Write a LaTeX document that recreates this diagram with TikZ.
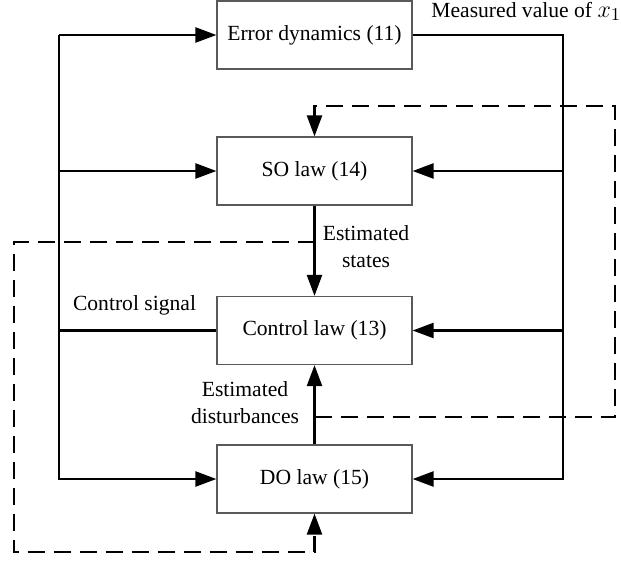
\documentclass[tikz,border=0pt]{standalone}
\usepackage{fontspec}
\setmainfont{Liberation Serif}
\usetikzlibrary{arrows.meta}
\begin{document}
\begin{tikzpicture}[x=0.5pt,y=-0.5pt,
  font=\fontsize{10.8pt}{13.5pt}\selectfont,
  blk/.style={draw=black!65,line width=0.6pt,minimum width=97.5pt,minimum height=34pt,inner sep=0pt},
  conn/.style={line width=1.2pt},
  arr/.style={conn,-{Triangle[length=10.5pt,width=7.5pt]}},
  dsh/.style={dash pattern=on 8.5pt off 4.5pt},
  lbl/.style={inner sep=0pt,align=center}]
\useasboundingbox (0,0) rectangle (621,563);
% blocks
\node[blk] (err) at (314.5,35) {Error dynamics (11)};
\node[blk] (so) at (314.5,171) {SO law (14)};
\node[blk] (ctl) at (314.5,330.5) {Control law (13)};
\node[blk] (do) at (314.5,479) {DO law (15)};
% bus corners
\coordinate (lt) at (59,35);
\coordinate (lb) at (59,479);
\coordinate (rt) at (563,35);
\coordinate (rb) at (563,479);
% left bus
\draw[arr] (lt) -- (err.west);
\draw[arr] (lt |- so.west) -- (so.west);
\draw[arr] (lt) -- (lb) -- (do.west);
\draw[conn] (ctl.west) -- (ctl.west -| lt);
% right bus
\draw[arr] (err.east) -- (rt) -- (rb) -- (do.east);
\draw[arr] (rt |- so.east) -- (so.east);
\draw[arr] (rt |- ctl.east) -- (ctl.east);
% vertical signals
\draw[arr] (so.south) -- (ctl.north);
\draw[arr] (do.north) -- (ctl.south);
% dashed feedbacks
\coordinate (j1) at (314.5,242);
\coordinate (d1) at (14,242);
\coordinate (d2) at (14,552);
\coordinate (d3) at (314.5,552);
\draw[arr,dsh] (j1) -- (d1) -- (d2) -- (d3) -- (do.south);
\coordinate (j2) at (314.5,417);
\coordinate (e1) at (615,417);
\coordinate (e2) at (615,106);
\coordinate (e3) at (314.5,106);
\draw[arr,dsh] (j2) -- (e1) -- (e2) -- (e3) -- (so.north);
% labels
\node[lbl,anchor=base west] (meas) at (431,17) {Measured value of {\fontsize{13pt}{13pt}\selectfont$x_1$}};
\node[lbl] (est) at (366,246.5) {Estimated\\states};
\node[lbl] (cs) at (134.5,305) {Control signal};
\node[lbl] (ed) at (245,403) {Estimated\\disturbances};
\end{tikzpicture}
\end{document}
